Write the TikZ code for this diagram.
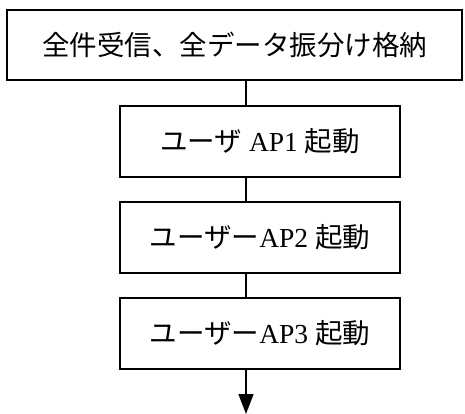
\documentclass[tikz,border=0pt]{standalone}
\usepackage{fontspec}
\setmainfont{Liberation Serif}
\newfontfamily\jp{Noto Sans CJK JP}
\usetikzlibrary{arrows.meta}
\begin{document}
\begin{tikzpicture}[x=1pt,y=-1pt,
  flowbox/.style={draw,line width=1.6pt,inner sep=0pt,font=\fontsize{27.5}{32}\selectfont},
  conn/.style={line width=1.6pt}]
\useasboundingbox (0,0) rectangle (465,414);
\node[flowbox,minimum width=455pt,minimum height=70pt] (top) at (234.5,45) {\jp 全件受信、全データ振分け格納};
\node[flowbox,minimum width=280pt,minimum height=71pt] (b1) at (260,141.5) {{\jp ユーザ} AP1 {\jp 起動}};
\node[flowbox,minimum width=280pt,minimum height=71pt] (b2) at (260,237.5) {{\jp ユーザー}AP2 {\jp 起動}};
\node[flowbox,minimum width=280pt,minimum height=71pt] (b3) at (260,333.5) {{\jp ユーザー}AP3 {\jp 起動}};
\coordinate (cx) at (246,0);
\coordinate (end) at (246,414);
\draw[conn] (top.south -| cx) -- (b1.north -| cx);
\draw[conn] (b1.south -| cx) -- (b2.north -| cx);
\draw[conn] (b2.south -| cx) -- (b3.north -| cx);
\draw[conn,-{Triangle[width=15pt,length=20pt]}] (b3.south -| cx) -- (end);
\end{tikzpicture}
\end{document}
